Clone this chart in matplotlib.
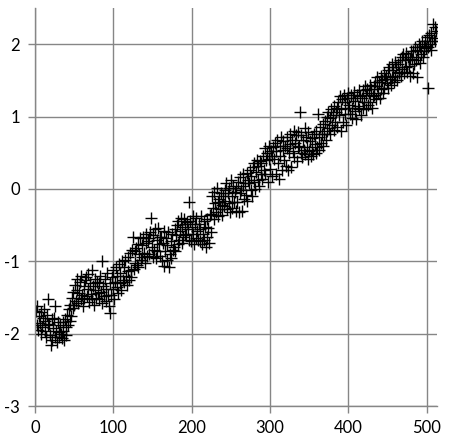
import matplotlib
matplotlib.use("Agg")
import matplotlib.pyplot as plt

# sample index 1..512 and measured value, read row by row (16 per row)
x_vals = list(range(1, 513))
y_vals = [
    -1.68, -1.88, -1.62, -1.95, -1.76, -1.85, -2.00, -1.70, -1.90, -1.78, -1.66, -1.96, -1.82, -2.04, -1.74, -1.88,
    -1.52, -1.86, -2.02, -2.15, -1.80, -2.08, -1.92, -1.78, -2.04, -1.62, -1.96, -2.12, -1.84, -1.98, -2.05, -1.88,
    -2.00, -2.06, -1.84, -1.96, -2.08, -1.80, -1.90, -2.02, -1.74, -1.88, -1.66, -1.82, -1.60, -1.76, -1.50, -1.64,
    -1.42, -1.60, -1.32, -1.55, -1.40, -1.25, -1.58, -1.44, -1.28, -1.52, -1.20, -1.46, -1.62, -1.34, -1.50, -1.26,
    -1.22, -1.48, -1.18, -1.38, -1.56, -1.30, -1.45, -1.12, -1.52, -1.34, -1.60, -1.24, -1.40, -1.50, -1.28, -1.44,
    -1.30, -1.52, -1.20, -1.42, -1.58, -1.00, -1.34, -1.48, -1.24, -1.55, -1.38, -1.16, -1.46, -1.62, -1.72, -1.30,
    -1.46, -1.22, -1.38, -1.12, -1.52, -1.28, -1.08, -1.36, -1.20, -1.44, -1.04, -1.30, -1.16, -1.40, -1.00, -1.26,
    -1.08, -1.28, -0.98, -1.20, -1.32, -0.94, -1.14, -1.26, -0.88, -1.12, -1.22, -0.85, -0.67, -1.10, -0.86, -1.02,
    -0.82, -1.05, -0.76, -1.08, -0.90, -0.68, -0.98, -0.78, -0.94, -0.66, -0.88, -1.02, -0.74, -0.62, -0.92, -0.72,
    -0.68, -0.90, -0.60, -0.40, -0.80, -0.94, -0.64, -0.84, -0.56, -0.96, -0.70, -0.86, -0.54, -0.76, -0.92, -0.66,
    -0.66, -1.00, -0.74, -0.58, -1.06, -0.86, -0.68, -0.98, -0.78, -0.60, -1.08, -0.90, -0.72, -0.96, -0.62, -0.84,
    -0.80, -0.56, -0.86, -0.64, -0.50, -0.76, -0.44, -0.70, -0.58, -0.40, -0.74, -0.52, -0.66, -0.42, -0.62, -0.48,
    -0.64, -0.46, -0.56, -0.18, -0.70, -0.44, -0.72, -0.52, -0.38, -0.62, -0.76, -0.48, -0.68, -0.40, -0.58, -0.70,
    -0.48, -0.72, -0.56, -0.38, -0.76, -0.62, -0.44, -0.70, -0.52, -0.80, -0.42, -0.66, -0.54, -0.74, -0.36, -0.60,
    -0.34, -0.10, -0.26, -0.42, -0.04, -0.20, -0.32, 0.02, -0.18, -0.38, -0.14, -0.28, -0.06, -0.36, -0.22, -0.10,
    -0.24, -0.02, -0.16, 0.08, -0.28, -0.06, -0.20, 0.02, -0.32, 0.12, -0.10, -0.26, 0.04, -0.18, -0.04, -0.30,
    0.02, -0.18, 0.10, -0.32, -0.06, 0.16, -0.02, -0.30, 0.04, 0.20, -0.14, 0.08, -0.08, 0.22, -0.16, 0.12,
    0.08, 0.26, -0.02, 0.18, -0.10, 0.30, 0.10, 0.36, 0.00, 0.24, 0.40, 0.12, 0.32, 0.04, 0.38, 0.20,
    0.36, 0.14, 0.46, 0.26, 0.56, 0.20, 0.40, 0.50, 0.10, 0.42, 0.60, 0.28, 0.52, 0.18, 0.46, 0.58,
    0.42, 0.64, 0.20, 0.52, 0.68, 0.36, 0.14, 0.60, 0.46, 0.72, 0.26, 0.54, 0.66, 0.40, 0.60, 0.32,
    0.56, 0.72, 0.26, 0.50, 0.76, 0.62, 0.30, 0.68, 0.52, 0.80, 0.44, 0.64, 0.74, 0.38, 0.58, 0.78,
    0.60, 1.06, 0.50, 0.74, 0.44, 0.68, 0.54, 0.84, 0.48, 0.72, 0.58, 0.42, 0.78, 0.52, 0.66, 0.46,
    0.54, 0.70, 0.48, 0.76, 0.62, 0.50, 0.80, 0.58, 1.04, 0.72, 0.54, 0.86, 0.64, 0.76, 0.60, 0.90,
    0.76, 0.94, 0.68, 1.00, 0.80, 1.06, 0.84, 0.98, 0.76, 1.10, 0.88, 1.02, 0.82, 1.14, 0.92, 1.06,
    1.12, 0.86, 1.20, 1.02, 1.28, 0.80, 1.10, 1.24, 0.92, 1.30, 1.04, 1.20, 0.88, 1.26, 1.12, 1.32,
    1.16, 1.04, 1.30, 1.12, 0.98, 1.26, 1.34, 1.08, 1.22, 0.96, 1.30, 1.14, 1.36, 1.10, 1.28, 1.02,
    1.26, 1.12, 1.36, 1.20, 1.42, 1.10, 1.30, 1.38, 1.16, 1.32, 1.44, 1.20, 1.38, 1.12, 1.28, 1.42,
    1.30, 1.48, 1.24, 1.42, 1.54, 1.32, 1.48, 1.26, 1.56, 1.38, 1.50, 1.32, 1.60, 1.40, 1.52, 1.56,
    1.46, 1.64, 1.40, 1.68, 1.52, 1.44, 1.72, 1.54, 1.64, 1.48, 1.76, 1.56, 1.68, 1.50, 1.72, 1.60,
    1.62, 1.78, 1.56, 1.82, 1.66, 1.86, 1.60, 1.78, 1.68, 1.88, 1.62, 1.82, 1.70, 1.56, 1.80, 1.90,
    1.80, 1.60, 1.90, 1.72, 1.96, 1.78, 1.54, 1.92, 1.82, 2.00, 1.74, 1.96, 1.86, 2.04, 1.82, 1.98,
    1.90, 2.04, 1.94, 2.10, 1.39, 1.96, 2.12, 2.00, 1.92, 2.16, 2.04, 2.28, 2.08, 2.24, 2.04, 2.18,
]

x_ticks = [0, 100, 200, 300, 400, 500]
y_ticks = [-3, -2, -1, 0, 1, 2]

grid_col = '#868686'
plt.rcParams['axes.unicode_minus'] = False
plt.rcParams['font.family'] = ['Lato', 'DejaVu Sans']

fig = plt.figure(figsize=(4.5, 4.41), dpi=100)
ax = fig.add_axes([0.078, 0.079, 0.893, 0.903])

ax.plot(x_vals, y_vals, linestyle='none', marker='+', color='black',
        markersize=8.5, markeredgewidth=1.0)

ax.set_xlim(0, 513)
ax.set_ylim(-3, 2.5)
ax.set_xticks(x_ticks)
ax.set_yticks(y_ticks)
ax.grid(True, color=grid_col, linewidth=1.0)
ax.set_axisbelow(True)

for side in ['top', 'right']:
    ax.spines[side].set_visible(False)
for side in ['left', 'bottom']:
    ax.spines[side].set_color(grid_col)
    ax.spines[side].set_linewidth(1.0)

ax.tick_params(axis='both', direction='out', length=5, width=1.0,
               color=grid_col, labelsize=12, labelcolor='black')
ax.tick_params(axis='x', pad=5)
ax.tick_params(axis='y', pad=6)

fig.savefig('out.png', dpi=100)
